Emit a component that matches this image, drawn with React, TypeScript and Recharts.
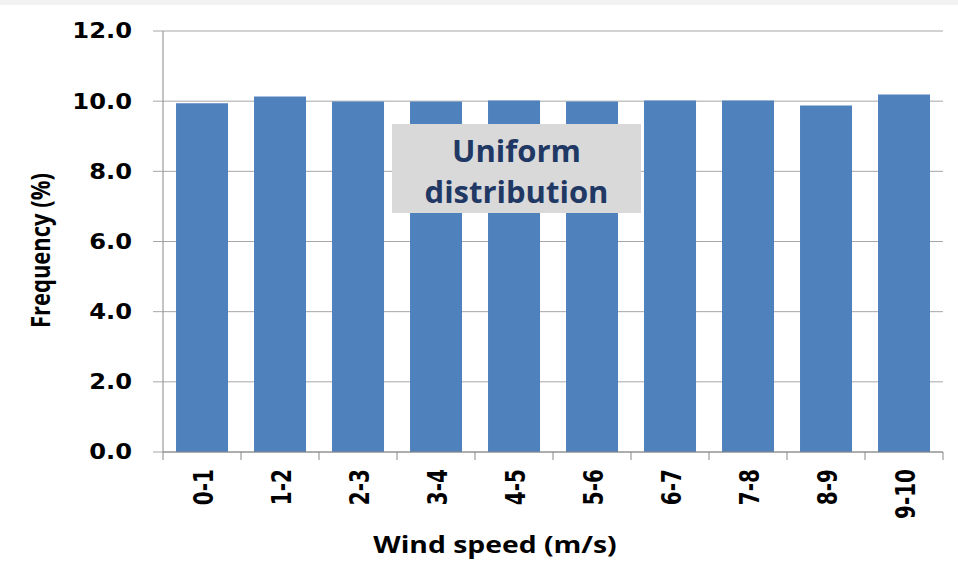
import React from 'react';
import { BarChart, Bar, XAxis, YAxis, CartesianGrid } from 'recharts';

const windBins = ['0-1', '1-2', '2-3', '3-4', '4-5', '5-6', '6-7', '7-8', '8-9', '9-10'];
const frequency = [9.94, 10.13, 9.99, 9.99, 10.02, 9.99, 10.02, 10.02, 9.88, 10.19];
const yTicks = [0, 2, 4, 6, 8, 10, 12];

const W = 958;
const H = 561;
const margin = { top: 31, right: 15, left: 0, bottom: 0 };
const Y_AXIS_W = 163;
const X_AXIS_H = 109;
const plotW = W - margin.left - margin.right - Y_AXIS_W;
const band = plotW / windBins.length;
const TICK_SIZE = 8;
const TICK_MARGIN = 9;
// the source figure's text is a little wider than the fonts we have, so stretch it sideways
const STRETCH = 1.18;
const X_TICK_STRETCH = 1.35;

const data = windBins.map((bin, i) => ({ bin, freq: frequency[i] }));

const tickFont = '"DejaVu Sans", Verdana, sans-serif';
const titleFont = '"Open Sans", "Noto Sans", sans-serif';

const XTick = (props: any) => {
  const { x, y, payload, index } = props;
  const axisY = y - TICK_SIZE - TICK_MARGIN;
  const isLast = index === windBins.length - 1;
  return (
    <g>
      <line x1={x - band / 2} x2={x - band / 2} y1={axisY} y2={axisY + TICK_SIZE} stroke="#888" />
      {isLast && <line x1={x + band / 2} x2={x + band / 2} y1={axisY} y2={axisY + TICK_SIZE} stroke="#888" />}
      <text
        transform={`translate(${x + 1}, ${y}) scale(${X_TICK_STRETCH}, 1) rotate(-90)`}
        textAnchor="end"
        dy="0.36em"
        fontFamily={tickFont}
        fontWeight="bold"
        fontSize={20}
        fill="#000"
      >
        {payload.value}
      </text>
    </g>
  );
};

const YTick = (props: any) => {
  const { x, y, payload } = props;
  return (
    <text
      transform={`translate(${x}, ${y}) scale(${STRETCH}, 1)`}
      textAnchor="end"
      dy="0.36em"
      fontFamily={tickFont}
      fontWeight="bold"
      fontSize={20.5}
      fill="#000"
    >
      {Number(payload.value).toFixed(1)}
    </text>
  );
};

export default function App() {
  return (
    <div style={{ position: 'relative', width: W, height: H, background: '#fff' }}>
      <style>{'body{margin:0}'}</style>
      <div style={{ position: 'absolute', left: 0, top: 0, width: W, height: 5, background: '#f2f2f2' }} />
      <BarChart
        width={W}
        height={H}
        data={data}
        margin={margin}
        barCategoryGap="16.7%"
      >
        <CartesianGrid vertical={false} stroke="#a6a6a6" />
        <XAxis
          dataKey="bin"
          height={X_AXIS_H}
          interval={0}
          tickLine={false}
          tickSize={TICK_SIZE}
          tickMargin={TICK_MARGIN}
          axisLine={{ stroke: '#888' }}
          tick={<XTick />}
          label={{
            content: (p: any) => {
              const vb = p.viewBox;
              const cx = vb.x + vb.width / 2 - 58;
              const cy = vb.y + 101;
              return (
                <text
                  transform={`translate(${cx}, ${cy}) scale(${STRETCH}, 1)`}
                  textAnchor="middle"
                  fontFamily={titleFont}
                  fontWeight="bold"
                  fontSize={24}
                  fill="#000"
                >
                  Wind speed (m/s)
                </text>
              );
            },
          }}
        />
        <YAxis
          width={Y_AXIS_W}
          domain={[0, 12]}
          ticks={yTicks}
          tickSize={10}
          tickMargin={21}
          tickLine={{ stroke: '#a6a6a6' }}
          axisLine={{ stroke: '#888' }}
          tick={<YTick />}
          label={{
            content: (p: any) => {
              const vb = p.viewBox;
              const cx = 41;
              const cy = vb.y + vb.height / 2 + 9;
              return (
                <text
                  transform={`translate(${cx}, ${cy}) scale(${STRETCH}, 1) rotate(-90)`}
                  textAnchor="middle"
                  dy="0.36em"
                  fontFamily={titleFont}
                  fontWeight="bold"
                  fontSize={22}
                  fill="#000"
                >
                  Frequency (%)
                </text>
              );
            },
          }}
        />
        <Bar dataKey="freq" fill="#4f81bd" isAnimationActive={false} />
      </BarChart>
      <div
        style={{
          position: 'absolute',
          left: 392,
          top: 124,
          width: 249,
          height: 89,
          boxSizing: 'border-box',
          paddingTop: 4,
          background: '#d9d9d9',
          display: 'flex',
          alignItems: 'center',
          justifyContent: 'center',
          textAlign: 'center',
          fontFamily: titleFont,
          fontWeight: 'bold',
          fontSize: 31,
          lineHeight: '41px',
          color: '#1f3864',
        }}
      >
        Uniform
        <br />
        distribution
      </div>
    </div>
  );
}
